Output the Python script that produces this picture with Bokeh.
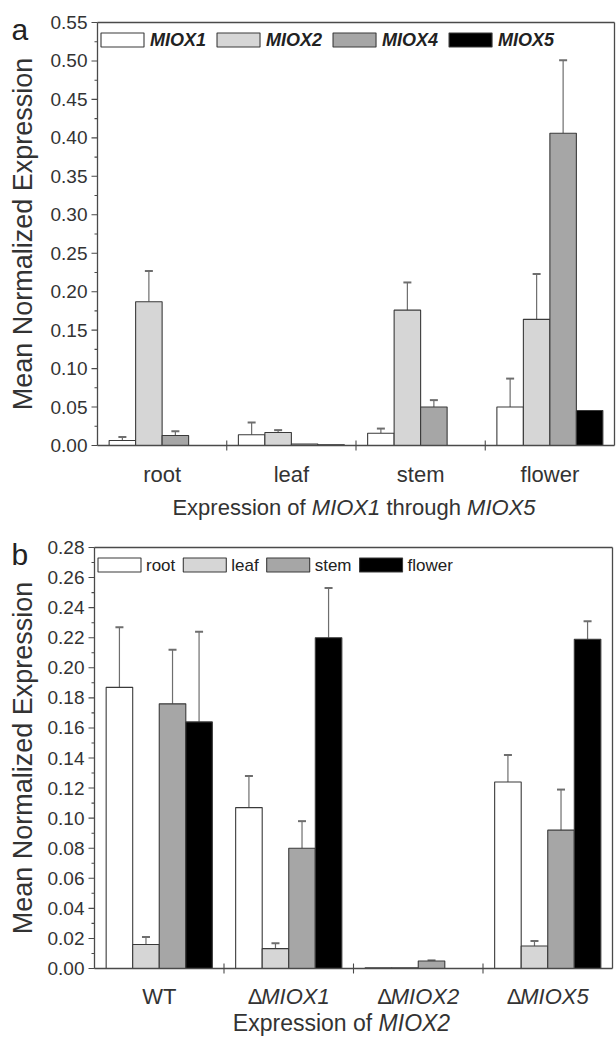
import math
from bokeh.plotting import figure
from bokeh.models import ColumnDataSource, Whisker, TeeHead, Range1d
from bokeh.layouts import column
from bokeh.embed import file_html
from bokeh.resources import INLINE
from bokeh.core.properties import value

FONT = "Liberation Sans"

# ---------------- panel a data ----------------
tissues = ["root", "leaf", "stem", "flower"]
genes = ["MIOX1", "MIOX2", "MIOX4", "MIOX5"]
a_miox1 = [0.0065, 0.014, 0.016, 0.050]
a_miox1_err = [0.0045, 0.016, 0.006, 0.037]
a_miox2 = [0.187, 0.017, 0.176, 0.164]
a_miox2_err = [0.040, 0.003, 0.036, 0.059]
a_miox4 = [0.013, 0.002, 0.050, 0.406]
a_miox4_err = [0.0056, 0.0, 0.009, 0.095]
a_miox5 = [0.0, 0.001, 0.0, 0.0455]
a_miox5_err = [0.0, 0.0, 0.0, 0.0]
a_yticks = [0.00, 0.05, 0.10, 0.15, 0.20, 0.25, 0.30, 0.35, 0.40, 0.45, 0.50, 0.55]
a_yticklabels = ["0.00", "0.05", "0.10", "0.15", "0.20", "0.25", "0.30", "0.35",
                 "0.40", "0.45", "0.50", "0.55"]

# ---------------- panel b data ----------------
lines = ["WT", "MIOX1", "MIOX2", "MIOX5"]   # mutants are shown as ΔMIOXn
b_groups = ["root", "leaf", "stem", "flower"]
b_root = [0.187, 0.107, 0.0005, 0.124]
b_root_err = [0.040, 0.021, 0.0, 0.018]
b_leaf = [0.016, 0.0132, 0.0004, 0.015]
b_leaf_err = [0.005, 0.0036, 0.0, 0.0033]
b_stem = [0.176, 0.080, 0.005, 0.092]
b_stem_err = [0.036, 0.018, 0.0004, 0.027]
b_flower = [0.164, 0.220, 0.0, 0.219]
b_flower_err = [0.060, 0.033, 0.0, 0.012]
b_yticks = [0.00, 0.02, 0.04, 0.06, 0.08, 0.10, 0.12, 0.14, 0.16, 0.18, 0.20,
            0.22, 0.24, 0.26, 0.28]
b_yticklabels = ["0.00", "0.02", "0.04", "0.06", "0.08", "0.10", "0.12", "0.14",
                 "0.16", "0.18", "0.20", "0.22", "0.24", "0.26", "0.28"]

FILLS = ["#ffffff", "#d6d6d6", "#a6a6a6", "#000000"]
OUTLINE = "#3a3a3a"
AXIS = "#4a4a4a"
TEXT = "#333333"
ERR = "#6e6e6e"

# Arial / Liberation Sans advance widths (1/1000 em)
AW = {' ': 278, 'E': 667, 'x': 500, 'p': 556, 'r': 333, 'e': 556, 's': 500, 'i': 222,
      'o': 556, 'n': 556, 'f': 278, 'M': 833, 'I': 278, 'O': 778, 'X': 667, '1': 556,
      '2': 556, '5': 556, '4': 556, 't': 278, 'h': 556, 'u': 556, 'g': 556, 'Δ': 612,
      'W': 944, 'T': 611, 'a': 556, 'l': 222, 'm': 833, 'w': 722, 'd': 556}

PAGE_W = 616


def tw(s, size):
    return sum(AW.get(c, 556) for c in s) * size / 1000.0


class Panel:
    """All positions are given in page pixels; the canvas covers its own band."""

    def __init__(self, page_top, height, fl, fr, ft, fb, ymax):
        self.top = page_top
        self.h = height
        self.fl, self.fr, self.ft, self.fb = fl, fr, ft, fb
        self.ymax = ymax
        self.xs = (fr - fl) / 4.0
        self.ys = (fb - ft) / ymax
        self.p = figure(width=PAGE_W, height=height, title=None,
                        x_range=Range1d(self.X(0), self.X(PAGE_W)),
                        y_range=Range1d(self.Y(page_top + height), self.Y(page_top)),
                        output_backend="svg", toolbar_location=None,
                        min_border=0, min_border_left=0, min_border_right=0,
                        min_border_top=0, min_border_bottom=0)
        p = self.p
        p.axis.visible = False
        p.grid.visible = False
        p.outline_line_color = None
        p.background_fill_color = "white"
        p.border_fill_color = "white"

    def X(self, px):
        return 0.5 + (px - self.fl) / self.xs

    def Y(self, py):
        return (self.fb - py) / self.ys

    def text(self, px, py, t, size, style="normal", align="left",
             baseline="alphabetic", angle=0.0, color=TEXT):
        self.p.text(x=[self.X(px)], y=[self.Y(py)], text=[t],
                    text_font=value(FONT), text_font_size=value(f"{size}px"),
                    text_font_style=style, text_color=color, text_align=align,
                    text_baseline=baseline, angle=angle)

    def rich(self, cx_px, py, pieces, size):
        full = "".join(t + (" " if sp else "") for t, st, sp in pieces).rstrip()
        x = cx_px - tw(full, size) / 2.0
        for t, st, sp in pieces:
            self.text(x, py, t, size, style=st)
            x += tw(t + (" " if sp else ""), size)


def draw_panel(P, series, errs, yticks, yticklabels, names, legend_style,
               legend_size, standoff, spacing, letter, letter_base):
    p = P.p
    width = 0.205
    offsets = [-1.5 * width, -0.5 * width, 0.5 * width, 1.5 * width]
    for k, (vals, ev) in enumerate(zip(series, errs)):
        xs = [i + 1 + offsets[k] for i in range(len(vals))]
        src = ColumnDataSource(dict(x=xs, top=vals))
        p.vbar(x="x", top="top", bottom=0, width=width, source=src,
               fill_color=FILLS[k], line_color=OUTLINE, line_width=1.1)
        ex = [x for x, e in zip(xs, ev) if e > 0]
        lo = [v for v, e in zip(vals, ev) if e > 0]
        hi = [v + e for v, e in zip(vals, ev) if e > 0]
        if ex:
            es = ColumnDataSource(dict(base=ex, lower=lo, upper=hi))
            p.add_layout(Whisker(source=es, base="base", lower="lower", upper="upper",
                                 line_color=ERR, line_width=1.2, lower_head=None,
                                 upper_head=TeeHead(size=8, line_color=ERR,
                                                    line_width=2)))

    ymax = P.ymax
    # frame box
    p.segment(x0=[0.5, 0.5, 0.5, 4.5], y0=[0, ymax, 0, 0],
              x1=[4.5, 4.5, 0.5, 4.5], y1=[0, ymax, ymax, ymax],
              line_color=AXIS, line_width=1.3)
    # y ticks
    minor = [(yticks[i] + yticks[i + 1]) / 2 for i in range(len(yticks) - 1)]
    p.ray(x=[0.5] * len(yticks), y=yticks, length=6, angle=math.pi,
          length_units="screen", line_color=AXIS, line_width=1.1)
    p.ray(x=[0.5] * len(minor), y=minor, length=3, angle=math.pi,
          length_units="screen", line_color=AXIS, line_width=1.1)
    # x ticks between categories (crossing the axis)
    sep = [1.5, 2.5, 3.5]
    p.ray(x=sep, y=[0] * 3, length=5, angle=math.pi / 2, length_units="screen",
          line_color=AXIS, line_width=1.1)
    p.ray(x=sep, y=[0] * 3, length=5, angle=-math.pi / 2, length_units="screen",
          line_color=AXIS, line_width=1.1)
    # y tick labels
    p.text(x=[0.5] * len(yticks), y=yticks, text=yticklabels, x_offset=-10,
           text_font=value(FONT), text_font_size=value("19px"), text_color=TEXT,
           text_align="right", text_baseline="middle")

    # y label
    P.text(22, (P.ft + P.fb) / 2.0, "Mean Normalized Expression", 27,
           align="center", baseline="middle", angle=math.pi / 2)
    # panel letter
    P.text(11, letter_base, letter, 30, baseline="alphabetic", color="#222222")

    # legend (drawn manually)
    x = P.fl + 3.5
    cy = P.ft + 17.5
    for k, nm in enumerate(names):
        p.rect(x=[P.X(x + 21.5)], y=[P.Y(cy)], width=43, height=14,
               width_units="screen", height_units="screen",
               fill_color=FILLS[k], line_color=OUTLINE, line_width=1.1)
        P.text(x + 43 + standoff, cy, nm, legend_size, style=legend_style,
               baseline="middle", color="#222222")
        x += 43 + standoff + tw(nm, legend_size) + spacing


# ---------------- panel a ----------------
PA = Panel(0, 524, 97, 614, 22, 445, 0.55)
draw_panel(PA, [a_miox1, a_miox2, a_miox4, a_miox5],
           [a_miox1_err, a_miox2_err, a_miox4_err, a_miox5_err],
           a_yticks, a_yticklabels, genes, "bold italic", 18, 6, 11, "a", 29)
for i, t in enumerate(tissues):
    PA.text(PA.fl + (i + 0.5) * PA.xs, PA.fb + 29, t, 22, align="center")
PA.rich((PA.fl + PA.fr) / 2 - 2, PA.fb + 62,
        [("Expression of", "normal", True), ("MIOX1", "italic", True),
         ("through", "normal", True), ("MIOX5", "italic", False)], 22)

# ---------------- panel b ----------------
PB = Panel(524, 514, 94, 612, 547, 968, 0.28)
draw_panel(PB, [b_root, b_leaf, b_stem, b_flower],
           [b_root_err, b_leaf_err, b_stem_err, b_flower_err],
           b_yticks, b_yticklabels, b_groups, "normal", 17, 5, 8, "b", 554)
for i, name in enumerate(lines):
    cx = PB.fl + (i + 0.5) * PB.xs
    if name == "WT":
        PB.text(cx, PB.fb + 28, "WT", 22, align="center")
    else:
        PB.rich(cx, PB.fb + 28, [("Δ", "normal", False), (name, "italic", False)], 22)
PB.rich((PB.fl + PB.fr) / 2 - 12, PB.fb + 54,
        [("Expression of", "normal", True), ("MIOX2", "italic", False)], 23)

layout = column(PA.p, PB.p, spacing=0)
open("out.html", "w").write(file_html(layout, INLINE))
